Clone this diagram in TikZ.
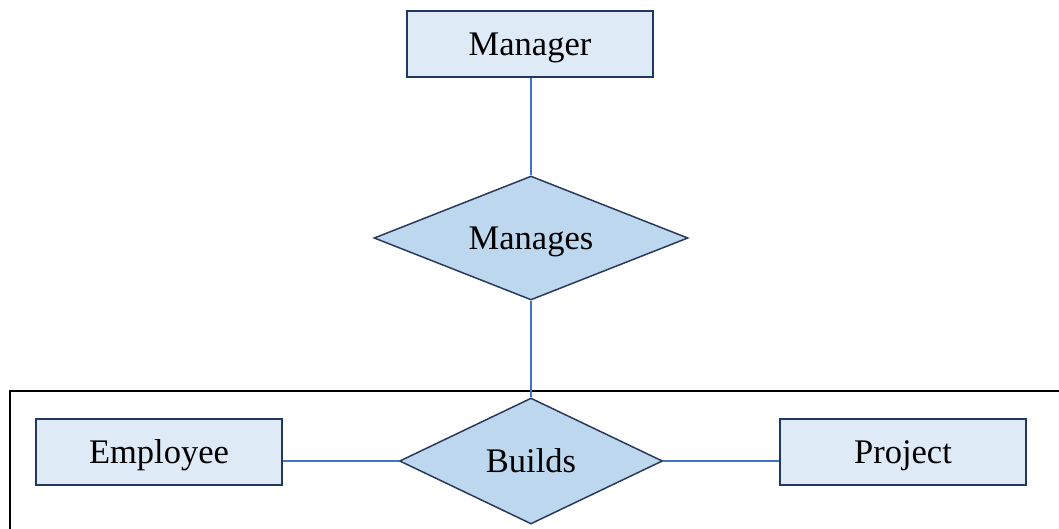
\documentclass[tikz,border=0pt]{standalone}
\usepackage{fontspec}
\setmainfont{Liberation Serif}
\usetikzlibrary{shapes.geometric}
\definecolor{boxfill}{HTML}{DEEAF6}
\definecolor{boxline}{HTML}{1F3864}
\definecolor{dfill}{HTML}{BDD7EE}
\definecolor{dline}{HTML}{2B3A5C}
\definecolor{conn}{HTML}{4472C4}
\tikzset{
  lbl/.style={font=\fontsize{34.5}{40}\selectfont, text height=23pt, text depth=0pt},
  entity/.style={lbl, draw=boxline, fill=boxfill, line width=2pt, minimum width=246pt, minimum height=66pt, inner sep=0pt},
  relation/.style={lbl, diamond, draw=dline, fill=dfill, line width=1.5pt, inner sep=0pt},
  link/.style={draw=conn, line width=2.2pt},
  frame/.style={draw=black, line width=1.5pt}
}
\begin{document}
\begin{tikzpicture}[x=1pt,y=-1pt]
\useasboundingbox (0,0) rectangle (1059,528);
\coordinate (fr) at (1062,391);
\coordinate (fb) at (10,532);
\draw[frame] (fr) -| (fb);
\node[entity] (mgr) at (530,43.5) {Manager};
\node[relation, shape aspect=2.53, minimum width=314pt, minimum height=124pt] (mng) at (531,238) {Manages};
\node[relation, shape aspect=2.09, minimum width=263pt, minimum height=126pt] (bld) at (531,461) {Builds};
\node[entity] (emp) at (159,452) {Employee};
\node[entity] (prj) at (903,452) {Project};
\draw[link] (mgr.south -| mng.north) -- (mng.north);
\draw[link] (mng.south) -- (bld.north);
\draw[link] (bld.west) -- (bld.west -| emp.east);
\draw[link] (bld.east) -- (bld.east -| prj.west);
\end{tikzpicture}
\end{document}
